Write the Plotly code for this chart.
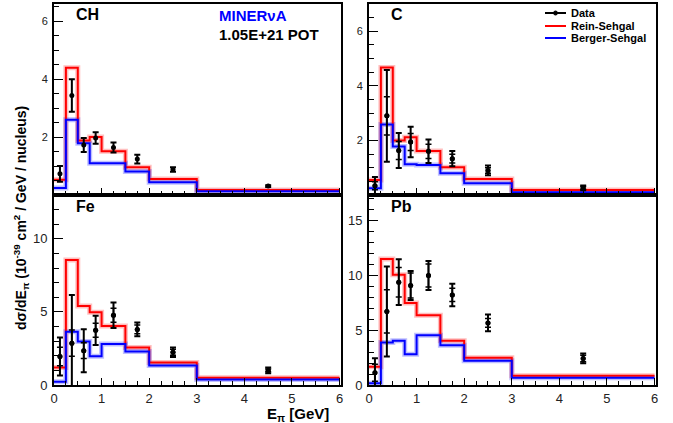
import plotly.graph_objects as go

# ---------------- data ----------------
bin_edges = [0.0, 0.25, 0.5, 0.75, 1.0, 1.5, 2.0, 3.0, 6.0]
bin_centers = [0.125, 0.375, 0.625, 0.875, 1.25, 1.75, 2.5, 4.5]

ch_data = [0.73, 3.44, 1.73, 1.97, 1.64, 1.24, 0.88, 0.31]
ch_err_tot = [0.27, 0.56, 0.24, 0.20, 0.17, 0.15, 0.08, 0.03]
ch_rs = [0.53, 4.40, 1.88, 2.00, 1.51, 0.96, 0.55, 0.17]
ch_bs = [0.24, 2.60, 1.79, 1.10, 1.10, 0.81, 0.44, 0.13]

c_data = [0.34, 2.90, 1.63, 1.94, 1.60, 1.33, 0.90, 0.26]
c_err_tot = [0.32, 1.68, 0.64, 0.56, 0.43, 0.28, 0.18, 0.09]
c_err_stat = [0.15, 0.70, 0.33, 0.31, 0.26, 0.16, 0.10, 0.05]
c_rs = [0.55, 4.67, 2.00, 2.12, 1.61, 1.02, 0.59, 0.18]
c_bs = [0.25, 2.58, 1.78, 1.13, 1.10, 0.80, 0.43, 0.10]

fe_data = [1.95, 2.86, 2.35, 3.74, 4.77, 3.80, 2.24, 1.00]
fe_err_tot = [1.30, 3.29, 1.47, 1.00, 0.87, 0.47, 0.32, 0.19]
fe_err_stat = [0.64, 0.90, 0.54, 0.48, 0.48, 0.30, 0.20, 0.10]
fe_rs = [1.19, 8.55, 5.41, 4.97, 4.03, 2.57, 1.54, 0.49]
fe_bs = [0.22, 3.65, 2.98, 1.97, 2.80, 2.30, 1.34, 0.38]

pb_data = [1.12, 6.70, 9.36, 9.06, 9.97, 8.20, 5.65, 2.42]
pb_err_tot = [1.32, 4.10, 2.08, 1.32, 1.33, 1.02, 0.76, 0.45]
pb_err_stat = [0.78, 1.97, 1.35, 1.13, 1.05, 0.60, 0.40, 0.30]
pb_rs = [1.66, 11.48, 10.03, 7.46, 6.34, 4.02, 2.48, 0.85]
pb_bs = [0.15, 3.87, 4.02, 2.81, 4.53, 3.63, 2.20, 0.66]

panel_names = ["CH", "C", "Fe", "Pb"]
y_ranges = [[0, 6.6], [0, 7.0], [0, 13.0], [0, 17.3]]
y_tickvals = [[2, 4, 6], [2, 4, 6], [0, 5, 10], [0, 5, 10, 15]]
y_minor = [0.5, 0.5, 1, 1]
x_tickvals = [0, 1, 2, 3, 4, 5, 6]
legend_names = ["Data", "Rein-Sehgal", "Berger-Sehgal"]

panels = [
    (ch_data, ch_err_tot, None, ch_rs, ch_bs),
    (c_data, c_err_tot, c_err_stat, c_rs, c_bs),
    (fe_data, fe_err_tot, fe_err_stat, fe_rs, fe_bs),
    (pb_data, pb_err_tot, pb_err_stat, pb_rs, pb_bs),
]

# ---------------- layout geometry ----------------
W, H = 673, 423

def fx(px):
    return px / W

def fy(py):
    return min(1.0, 1 - py / H)

x_domains = [[fx(54), fx(341)], [fx(369), fx(656)], [fx(54), fx(341)], [fx(369), fx(656)]]
y_domains = [[fy(195), fy(4)], [fy(195), fy(4)], [fy(385), fy(195)], [fy(385), fy(195)]]

FONT = "Liberation Sans, Arial, Helvetica, sans-serif"
RED = "#ff0000"
BLUE = "#0000ff"

fig = go.Figure()

def step(vals):
    return list(vals) + [vals[-1]]

for i, (d, etot, estat, rs, bs) in enumerate(panels):
    xa = "x" if i == 0 else f"x{i+1}"
    ya = "y" if i == 0 else f"y{i+1}"
    for vals, col in ((rs, "rgba(255,0,0,0.25)"), (bs, "rgba(0,0,255,0.25)")):
        fig.add_trace(go.Scatter(x=bin_edges, y=step(vals), mode="lines",
                                 line=dict(color=col, width=5, shape="hv"),
                                 xaxis=xa, yaxis=ya, showlegend=False, hoverinfo="skip"))
    fig.add_trace(go.Scatter(x=bin_edges, y=step(rs), mode="lines", name="Rein-Sehgal",
                             line=dict(color=RED, width=2, shape="hv"),
                             xaxis=xa, yaxis=ya, showlegend=False))
    fig.add_trace(go.Scatter(x=bin_edges, y=step(bs), mode="lines", name="Berger-Sehgal",
                             line=dict(color=BLUE, width=2, shape="hv"),
                             xaxis=xa, yaxis=ya, showlegend=False))
    fig.add_trace(go.Scatter(x=bin_centers, y=d, mode="markers", name="Data",
                             marker=dict(color="black", size=5),
                             error_y=dict(type="data", array=etot, color="black",
                                          thickness=2, width=3),
                             xaxis=xa, yaxis=ya, showlegend=False))
    if estat is not None:
        fig.add_trace(go.Scatter(x=bin_centers, y=d, mode="markers", name="Data (stat)",
                                 marker=dict(color="black", size=5),
                                 error_y=dict(type="data", array=estat, color="black",
                                              thickness=1.5, width=3),
                                 xaxis=xa, yaxis=ya, showlegend=False))

for i in range(4):
    xkey = "xaxis" if i == 0 else f"xaxis{i+1}"
    ykey = "yaxis" if i == 0 else f"yaxis{i+1}"
    ya = "y" if i == 0 else f"y{i+1}"
    xa = "x" if i == 0 else f"x{i+1}"
    bottom = i >= 2
    fig.layout[xkey] = dict(
        domain=x_domains[i], range=[0, 6.03], anchor=ya, automargin=False,
        showline=True, linecolor="black", linewidth=2, mirror=True,
        showgrid=False, zeroline=False,
        tickvals=x_tickvals, ticks="inside", ticklen=7, tickwidth=1, tickcolor="black",
        minor=dict(dtick=0.25, tick0=0, ticks="inside", ticklen=4, tickcolor="black"),
        showticklabels=bottom,
        tickfont=dict(family=FONT, size=13, color="#222"),
    )
    fig.layout[ykey] = dict(
        domain=y_domains[i], range=y_ranges[i], anchor=xa, automargin=False,
        showline=True, linecolor="black", linewidth=2, mirror=True,
        showgrid=False, zeroline=False,
        tickvals=y_tickvals[i], ticks="inside", ticklen=9, tickwidth=1, tickcolor="black",
        minor=dict(dtick=y_minor[i], tick0=0, ticks="inside", ticklen=5, tickcolor="black"),
        tickfont=dict(family=FONT, size=(11 if i < 2 else 13), color="#222"),
        ticklabelstandoff=2,
    )

annotations = []
shapes = []

def add_text(text, px, py, size, color="black", xanchor="left", angle=0):
    annotations.append(dict(text=text, x=fx(px), y=fy(py), xref="paper", yref="paper",
                            xanchor=xanchor, yanchor="middle", textangle=angle,
                            showarrow=False, font=dict(family=FONT, size=size, color=color)))

label_pos = [(74, 14), (389, 14), (74, 206), (389, 206)]
for name, (px, py) in zip(panel_names, label_pos):
    add_text(f"<b>{name}</b>", px, py, 16)
add_text("<b>MINERνA</b>", 217, 15, 15, BLUE)
add_text("<b>1.05E+21 POT</b>", 217, 34, 15)
add_text("<b>dσ/dE<sub>π</sub> (10<sup>-39</sup> cm<sup>2</sup> / GeV / nucleus)</b>",
         21, 218, 14, xanchor="center", angle=-90)
add_text("<b>E<sub>π</sub> [GeV]</b>", 298, 414, 15, xanchor="center")

# manual legend (decoration)
legend_colors = ["black", RED, BLUE]
legend_rows = [13, 26, 38]
for name, col, row in zip(legend_names, legend_colors, legend_rows):
    shapes.append(dict(type="line", xref="paper", yref="paper",
                       x0=fx(545), x1=fx(566), y0=fy(row), y1=fy(row),
                       line=dict(color=col, width=2)))
    add_text(f"<b>{name}</b>", 569, row, 11)
shapes.append(dict(type="circle", xref="paper", yref="paper",
                   x0=fx(553.5), x1=fx(557.5), y0=fy(15), y1=fy(11),
                   fillcolor="black", line=dict(color="black", width=1)))

fig.update_layout(
    width=W, height=H,
    margin=dict(l=0, r=0, t=0, b=0, pad=0, autoexpand=False),
    paper_bgcolor="white", plot_bgcolor="white",
    annotations=annotations, shapes=shapes,
    showlegend=False,
)

# remove the default page margin so the 673x423 figure fills the window exactly
fig.write_html("out.html", config={"displayModeBar": False},
               post_script="document.body.style.margin='0px';")
